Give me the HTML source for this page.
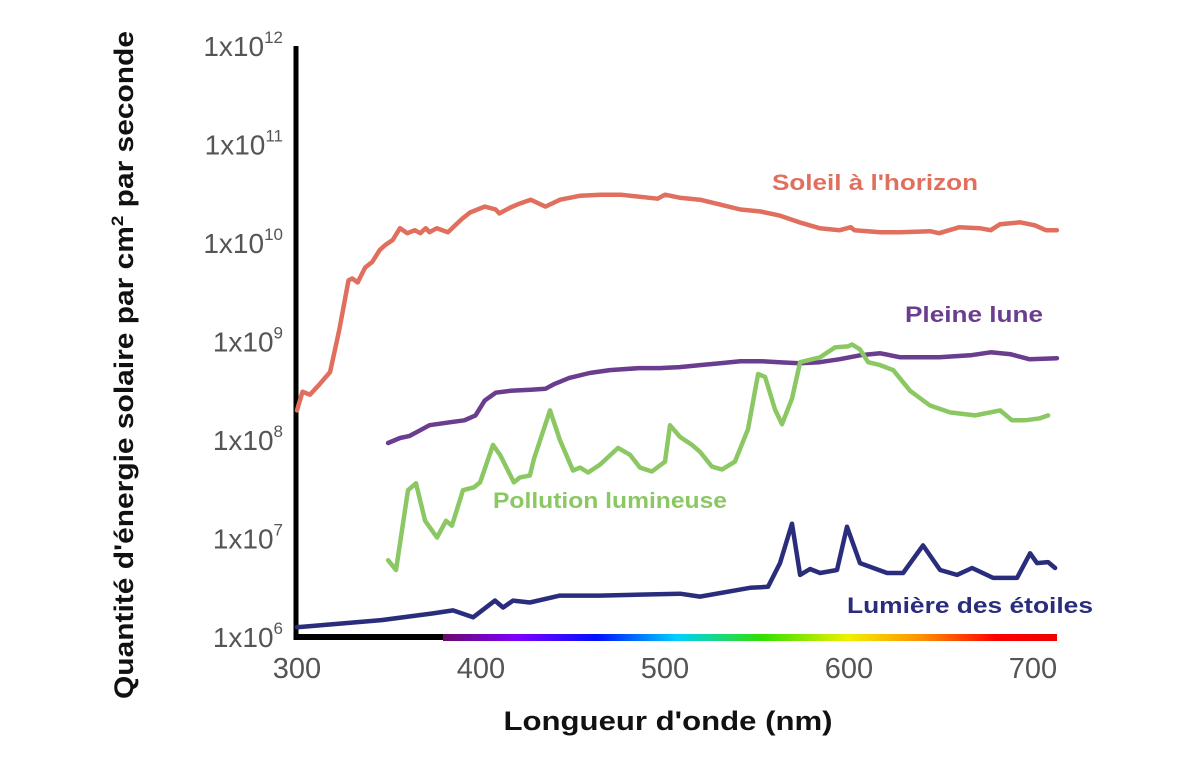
<!DOCTYPE html>
<html><head><meta charset="utf-8"><style>
body{margin:0;background:#fff}
svg{display:block}
text{font-family:"Liberation Sans",sans-serif}
</style></head><body>
<svg id="chart" width="1200" height="761" viewBox="0 0 1200 761">
<defs>
<linearGradient id="rainbow" x1="443" x2="1057" y1="0" y2="0" gradientUnits="userSpaceOnUse">
<stop offset="0" stop-color="#6a0a6a"/>
<stop offset="0.12" stop-color="#8000ff"/>
<stop offset="0.25" stop-color="#0010ff"/>
<stop offset="0.38" stop-color="#00d0ff"/>
<stop offset="0.52" stop-color="#30e000"/>
<stop offset="0.66" stop-color="#f0f000"/>
<stop offset="0.78" stop-color="#ff9000"/>
<stop offset="0.9" stop-color="#ff0000"/>
<stop offset="1" stop-color="#ee0000"/>
</linearGradient>
</defs>
<g id="axes"></g>
<g id="series"></g>
<text x="668" y="730" text-anchor="middle" font-size="27" font-weight="bold" fill="#111" textLength="329" lengthAdjust="spacingAndGlyphs">Longueur d'onde (nm)</text>
<text transform="translate(133,365) rotate(-90)" text-anchor="middle" font-size="27" font-weight="bold" fill="#111" textLength="668" lengthAdjust="spacingAndGlyphs">Quantité d'énergie solaire par cm<tspan dy="-10" font-size="17">2</tspan><tspan dy="10"> par seconde</tspan></text>
<text x="875" y="190" text-anchor="middle" font-size="22" font-weight="bold" fill="#e06f5e" textLength="206" lengthAdjust="spacingAndGlyphs">Soleil à l'horizon</text>
<text x="974" y="322" text-anchor="middle" font-size="22" font-weight="bold" fill="#6b3d8e" textLength="138" lengthAdjust="spacingAndGlyphs">Pleine lune</text>
<text x="610" y="508" text-anchor="middle" font-size="22" font-weight="bold" fill="#8bc763" textLength="234" lengthAdjust="spacingAndGlyphs">Pollution lumineuse</text>
<text x="970" y="613" text-anchor="middle" font-size="22" font-weight="bold" fill="#2a2d7c" textLength="246" lengthAdjust="spacingAndGlyphs">Lumière des étoiles</text>
</svg>
<script>
const xTicks=[300,400,500,600,700];
const yExps=[6,7,8,9,10,11,12];
const sunNm=[300,303,307,312,318,323,328,330,333,337,341,345,348,352,356,360,364,367,370,372,376,379,382,386,390,394,402,408,410,416,421,427,435,443,454,465,476,486,496,500,508,519,530,541,552,562,573,584,595,601,603,617,628,644,649,660,671,677,682,693,701,707,713];
const sunLog=[8.30,8.49,8.46,8.56,8.69,9.12,9.62,9.64,9.60,9.75,9.81,9.93,9.98,10.03,10.15,10.10,10.13,10.10,10.15,10.11,10.15,10.13,10.11,10.18,10.25,10.31,10.37,10.34,10.30,10.36,10.40,10.44,10.37,10.44,10.48,10.49,10.49,10.47,10.45,10.49,10.46,10.44,10.39,10.34,10.32,10.28,10.21,10.15,10.13,10.16,10.13,10.11,10.11,10.12,10.10,10.16,10.15,10.13,10.19,10.21,10.18,10.13,10.13];
const moonNm=[349.5,356,361,367,372,383,391,397,402,408,416,427,435,440,448,459,470,486,497,508,519,530,541,552,562,573,584,595,606,617,628,649,666,677,688,698,713];
const moonLog=[7.97,8.02,8.04,8.10,8.15,8.18,8.20,8.25,8.40,8.48,8.50,8.51,8.52,8.57,8.63,8.68,8.71,8.73,8.73,8.74,8.76,8.78,8.80,8.80,8.79,8.78,8.79,8.82,8.86,8.88,8.84,8.84,8.86,8.89,8.87,8.82,8.83];
const polNm=[349.5,353.8,360.3,364.7,369.6,376.1,381,384.2,390.2,396.2,399.5,406.5,410.3,417.9,421.2,426.6,428.8,437.5,442.9,450,453.8,458.2,464.7,474.5,481,486.4,492.9,500,502.7,508.2,514.7,519,525.5,531,538,545.1,550.6,554.4,559.8,563.6,569,573.4,584.3,592.4,599.5,601.7,606,610.4,616.9,624,633.2,644,654.9,668.5,673.9,682.1,688.6,695.7,703.8,708.2];
const polLog=[6.78,6.68,7.49,7.56,7.18,7.01,7.18,7.13,7.49,7.52,7.57,7.95,7.85,7.57,7.62,7.64,7.81,8.30,8.00,7.69,7.72,7.67,7.75,7.92,7.85,7.72,7.68,7.78,8.15,8.03,7.95,7.88,7.73,7.70,7.78,8.11,8.67,8.64,8.31,8.16,8.42,8.79,8.84,8.94,8.95,8.97,8.92,8.79,8.76,8.71,8.50,8.35,8.28,8.25,8.27,8.30,8.20,8.20,8.22,8.25];
const starNm=[300,345.1,373.9,384.8,395.7,407.6,412,417.4,426.6,442.9,464.7,486.4,508.2,519,546.2,556,562.5,569,573.4,578.8,584.3,593.5,598.9,606,620.7,629.4,640.2,649.5,658.7,666.9,678.3,691.3,698.4,702.2,708.2,712];
const starLog=[6.10,6.17,6.24,6.27,6.20,6.37,6.30,6.37,6.35,6.42,6.42,6.43,6.44,6.41,6.50,6.51,6.75,7.15,6.63,6.69,6.65,6.68,7.12,6.75,6.65,6.65,6.93,6.68,6.63,6.70,6.60,6.60,6.85,6.75,6.76,6.70];

const NS='http://www.w3.org/2000/svg';
const xs=nm=>297+(nm-300)*1.84;
const ys=l=>637-(l-6)*98.5;
const axes=document.getElementById('axes');
const series=document.getElementById('series');
function mk(tag,attrs,parent){const e=document.createElementNS(NS,tag);for(const k in attrs)e.setAttribute(k,attrs[k]);parent.appendChild(e);return e;}

const yl=mk('line',{x1:296,y1:46,x2:296,y2:640,stroke:'#000','stroke-width':5},axes);


const xl=mk('line',{x1:294,y1:637,x2:445,y2:637,stroke:'#000','stroke-width':6},axes);


const rb=mk('rect',{x:443,y:634,width:614,height:7,fill:'url(#rainbow)'},axes);



xTicks.forEach(v=>{
  const t=mk('text',{x:xs(v),y:678,'text-anchor':'middle','font-size':29,fill:'#555'},axes);
  t.textContent=v;
  
  
});
yExps.forEach(e=>{
  const t=mk('text',{x:283,y:ys(e)+10,'text-anchor':'end','font-size':28,fill:'#555'},axes);
  
  
  t.appendChild(document.createTextNode('1x10'));
  const s=mk('tspan',{dy:-13,'font-size':17},t);
  s.textContent=e;
});

function line(nm,lg,color,name){
  const d=nm.map((n,i)=>(i?'L':'M')+xs(n).toFixed(1)+','+ys(lg[i]).toFixed(1)).join('');
  const p=mk('path',{d:d,fill:'none',stroke:color,'stroke-width':4.5,'stroke-linejoin':'round','stroke-linecap':'round'},series);
  
  
}
line(sunNm,sunLog,'#e06f5e','series-soleil');
line(moonNm,moonLog,'#6b3d8e','series-pleine-lune');
line(polNm,polLog,'#8bc763','series-pollution');
line(starNm,starLog,'#2a2d7c','series-etoiles');
</script>
</body></html>
